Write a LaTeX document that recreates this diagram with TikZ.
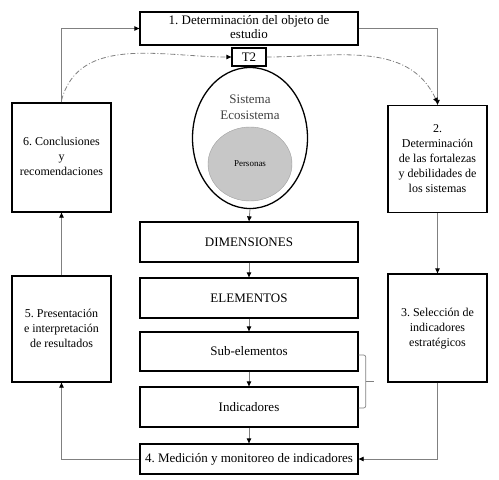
\documentclass[tikz,border=0pt]{standalone}
\usepackage{fontspec}
\setmainfont{Liberation Serif}
\usepackage{tikz}
\usetikzlibrary{shapes.geometric,arrows.meta,calc}
\definecolor{linegray}{rgb}{0.5,0.5,0.5}
\definecolor{ballgray}{rgb}{0.78,0.78,0.78}
\frenchspacing
\newcommand{\stacked}[1]{\begin{tabular}{@{}c@{}}#1\end{tabular}}

\begin{document}
\begin{tikzpicture}[
    x=1pt, y=-1pt,
    box/.style={draw, line width=1.3pt, align=center, inner sep=2pt, font=\fontsize{13}{15}\selectfont},
    mid/.style={box, minimum width=218pt, minimum height=40pt},
    side/.style={box, minimum width=99pt, font=\fontsize{12}{15}\selectfont},
    link/.style={draw=linegray, line width=0.8pt, -{Triangle[length=5pt,width=4.5pt,black]}},
    loop/.style={link, dash pattern=on 5pt off 2pt on 1pt off 2pt},
    brace/.style={draw=linegray, line width=0.7pt, rounded corners=2pt},
]
\useasboundingbox (0,0) rectangle (499,480);

\node[box, minimum width=218pt, minimum height=31pt, font=\fontsize{13}{14.5}\selectfont] (obj) at (249,28.5)
    {\stacked{1. Determinación del objeto de\\estudio}};
\node[box, minimum width=34pt, minimum height=18pt, inner sep=1pt] (tt) at (249,57) {T2};

\node[draw, ellipse, line width=1.3pt, minimum width=115pt, minimum height=141pt] (eco) at (250,138) {};
\node[text=black!75, font=\fontsize{13}{16}\selectfont] (sis) at (250,108) {\stacked{Sistema\\Ecosistema}};
\node[ellipse, fill=ballgray, draw=ballgray!80!black, minimum width=84pt, minimum height=74pt,
      font=\fontsize{9}{11}\selectfont] (per) at (250,164) {Personas};

\node[mid] (dim) at (249,242) {DIMENSIONES};
\node[mid] (ele) at (249,298) {ELEMENTOS};
\node[mid, minimum height=39pt] (sub) at (249,351.5) {Sub-elementos};
\node[mid] (ind) at (249,407) {Indicadores};
\node[mid, minimum height=30pt] (med) at (249,459) {4. Medición y monitoreo de indicadores};

\node[side, minimum height=109pt] (con) at (61.5,157.5) {\stacked{6. Conclusiones\\y\\recomendaciones}};
\node[side, minimum height=106pt] (pre) at (61.5,329) {\stacked{5. Presentación\\e interpretación\\de resultados}};
\node[side, minimum height=107pt] (fort) at (437.5,159) {\stacked{2.\\Determinación\\de las fortalezas\\y debilidades de\\los sistemas}};
\node[side, minimum height=108pt] (sel) at (437.5,328) {\stacked{3. Selección de\\indicadores\\estratégicos}};

% cycle
\draw[link] (con.north) |- (obj.west);
\draw[link] (obj.east) -| (fort.north);
\draw[link] (fort.south) -- (sel.north);
\draw[link] (sel.south) |- (med.east);
\draw[link] (med.west) -| (pre.south);
\draw[link] (pre.north) -- (con.south);

% centre column
\draw[link] (eco.south) -- (dim.north);
\draw[link] (dim) -- (ele);
\draw[link] (ele) -- (sub);
\draw[link] (sub) -- (ind);
\draw[link] (ind) -- (med);

% T2 loop
\draw[loop] ([yshift=2pt]con.north) to[out=75, in=180] (tt.west);
\draw[loop] (tt.east) to[out=0, in=115] ([yshift=2pt]fort.north);

% bracket
\coordinate (bt) at ([yshift=-3.5pt]sub.east);
\coordinate (bb) at ([yshift=-1pt]ind.east);
\draw[brace] (bt) -- ++(7,0) -- ($(bb)+(7,0)$) -- (bb);
\draw[brace] ($($(bt)!0.5!(bb)$)+(7,0)$) -- ++(8,0);
\end{tikzpicture}
\end{document}
